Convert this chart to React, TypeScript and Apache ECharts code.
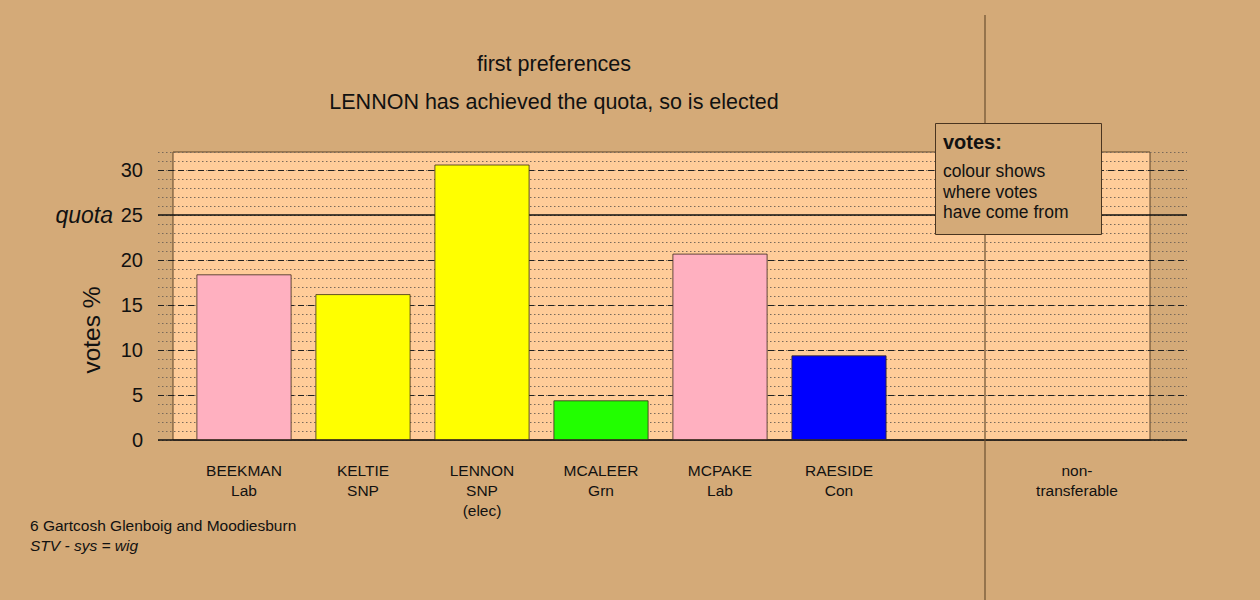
import React, { useEffect, useRef } from "react";
import * as echarts from "echarts";

const names = ["BEEKMAN", "KELTIE", "LENNON", "MCALEER", "MCPAKE", "RAESIDE"];
const parties = ["Lab", "SNP", "SNP", "Grn", "Lab", "Con"];
const notes = ["", "", "(elec)", "", "", ""];
const votes = [18.4, 16.2, 30.6, 4.4, 20.7, 9.4];
const colours = ["#FFB0C0", "#FFFF00", "#FFFF00", "#22FF00", "#FFB0C0", "#0000FF"];
const nonTransferableLabel = "non-\ntransferable";
const nonTransferable = 0;
const quota = 25;
const majorTicks = [5, 10, 15, 20, 30];
const yMax = 32;

const FONT = "'Liberation Sans', Arial, Helvetica, sans-serif";
const BG = "#D4AA78";

export default function App() {
  const ref = useRef<HTMLDivElement>(null);

  useEffect(() => {
    if (!ref.current) return;
    const chart = echarts.init(ref.current, null, { renderer: "svg" });

    const categories = [
      ...names.map((n, i) => [n, parties[i], notes[i]].filter((s) => s).join("\n")),
      "",
      nonTransferableLabel,
    ];
    const barData = [
      ...votes.map((v, i) => ({ value: v, itemStyle: { color: colours[i] } })),
      { value: null, itemStyle: { color: "transparent" } },
      { value: nonTransferable, itemStyle: { color: "#999999" } },
    ];

    const lineMarks: any[] = majorTicks.map((t) => ({
      yAxis: t,
      lineStyle: { type: [6, 4], color: "#222", width: 1 },
      label: { show: false },
    }));
    lineMarks.push({
      yAxis: quota,
      lineStyle: { type: "solid", color: "#111", width: 1.5 },
      label: {
        show: true,
        position: "start",
        formatter: "quota",
        distance: 45,
        fontStyle: "italic",
        fontSize: 23,
        fontFamily: FONT,
        color: "#111",
      },
    });
    lineMarks.push({
      yAxis: 0,
      lineStyle: { type: "solid", color: "#111", width: 1.5 },
      label: { show: false },
    });

    const option: any = {
      animation: false,
      backgroundColor: BG,
      textStyle: { fontFamily: FONT },
      grid: [
        {
          left: 173,
          top: 152,
          width: 977,
          height: 288,
          show: true,
          backgroundColor: "#FFCC99",
          borderColor: "#5c4326",
          borderWidth: 1,
        },
        { left: 158, top: 152, width: 1029, height: 288 },
        { left: 184.5, top: 152, width: 952, height: 288 },
      ],
      xAxis: [
        { gridIndex: 0, type: "value", show: false, min: 0, max: 1 },
        { gridIndex: 1, type: "value", show: false, min: 0, max: 1 },
        {
          gridIndex: 2,
          type: "category",
          data: categories,
          axisLine: { show: false },
          axisTick: { show: false },
          axisLabel: {
            interval: 0,
            margin: 20,
            fontSize: 15.5,
            lineHeight: 20,
            color: "#111",
            fontFamily: FONT,
          },
        },
      ],
      yAxis: [
        { gridIndex: 0, type: "value", show: false, min: 0, max: yMax },
        {
          gridIndex: 1,
          type: "value",
          min: 0,
          max: yMax,
          interval: 1,
          axisLine: { show: false },
          axisTick: { show: false },
          axisLabel: {
            margin: 15,
            fontSize: 20,
            color: "#111",
            fontFamily: FONT,
            formatter: (v: number) => (v % 5 === 0 && v <= 30 ? String(v) : ""),
          },
          splitLine: {
            show: true,
            lineStyle: { type: [1.5, 2.5], color: "#7a6a5a", width: 1 },
          },
        },
        { gridIndex: 2, type: "value", show: false, min: 0, max: yMax },
      ],
      series: [
        {
          type: "line",
          xAxisIndex: 1,
          yAxisIndex: 1,
          data: [],
          silent: true,
          z: 1,
          markLine: {
            silent: true,
            symbol: "none",
            data: lineMarks,
          },
        },
        {
          type: "bar",
          xAxisIndex: 2,
          yAxisIndex: 2,
          z: 10,
          barWidth: 95,
          data: barData,
          itemStyle: { borderColor: "#3a2a1a", borderWidth: 0.8 },
        },
      ],
      graphic: [
        {
          type: "line",
          z: 50,
          shape: { x1: 985, y1: 15, x2: 985, y2: 600 },
          style: { stroke: "#6b4f30", lineWidth: 1.2 },
        },
        {
          type: "rect",
          z: 60,
          shape: { x: 935.5, y: 123.5, width: 166, height: 111 },
          style: { fill: BG, stroke: "#4a3520", lineWidth: 1 },
        },
        {
          type: "text",
          z: 61,
          x: 943,
          y: 142,
          style: { text: "votes:", font: `bold 20px ${FONT}`, fill: "#111", verticalAlign: "middle" },
        },
        {
          type: "text",
          z: 61,
          x: 943,
          y: 161,
          style: {
            text: "colour shows\nwhere votes\nhave come from",
            font: `17.5px ${FONT}`,
            lineHeight: 20.5,
            fill: "#111",
            verticalAlign: "top",
          },
        },
        {
          type: "text",
          x: 91,
          y: 330,
          rotation: Math.PI / 2,
          style: { text: "votes %", font: `24.5px ${FONT}`, fill: "#111", align: "center", verticalAlign: "middle" },
        },
        {
          type: "text",
          x: 554,
          y: 64,
          style: { text: "first preferences", font: `21.5px ${FONT}`, fill: "#111", align: "center", verticalAlign: "middle" },
        },
        {
          type: "text",
          x: 554,
          y: 102,
          style: {
            text: "LENNON has achieved the quota, so is elected",
            font: `21.5px ${FONT}`,
            fill: "#111",
            align: "center",
            verticalAlign: "middle",
          },
        },
        {
          type: "text",
          x: 30,
          y: 525,
          style: { text: "6 Gartcosh Glenboig and Moodiesburn", font: `15.5px ${FONT}`, fill: "#111", verticalAlign: "middle" },
        },
        {
          type: "text",
          x: 30,
          y: 545,
          style: { text: "STV - sys = wig", font: `italic 15.5px ${FONT}`, fill: "#111", verticalAlign: "middle" },
        },
      ],
    };

    chart.setOption(option);
    return () => chart.dispose();
  }, []);

  return (
    <div
      ref={ref}
      style={{ position: "fixed", left: 0, top: 0, width: 1260, height: 600, background: BG }}
    />
  );
}
